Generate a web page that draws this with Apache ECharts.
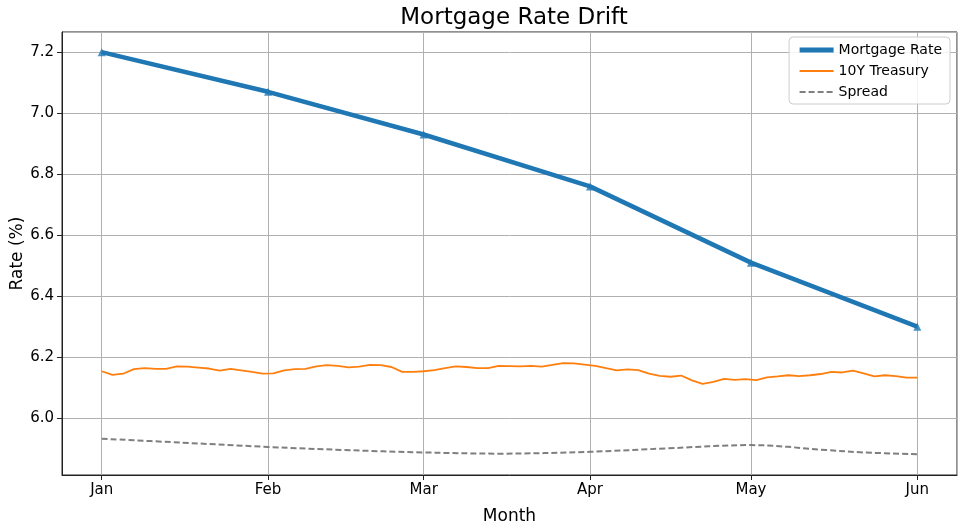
<!DOCTYPE html>
<html>
<head>
<meta charset="utf-8">
<script src="https://cdn.jsdelivr.net/npm/echarts@6/dist/echarts.min.js"></script>
<style>html,body{margin:0;padding:0;background:#fff;}#c{width:966px;height:527px;}</style>
</head>
<body>
<div id="c"></div>
<script>
const monthNames = ['Jan','Feb','Mar','Apr','May','Jun','Jul','Aug','Sep','Oct','Nov','Dec'];
// Mortgage rate, first day of each month (2024)
const mortgageDates = ['2024-01-01','2024-02-01','2024-03-01','2024-04-01','2024-05-01','2024-06-01'];
const mortgageValues = [7.20, 7.07, 6.93, 6.76, 6.51, 6.30];
// 10Y Treasury, every 2 days starting 2024-01-01
const treasuryStart = '2024-01-01';
const treasuryStepDays = 2;
const treasuryValues = [
  6.154,6.142,6.146,6.161,6.164,6.162,6.162,6.170,6.169,6.166,
  6.163,6.156,6.162,6.157,6.152,6.146,6.147,6.157,6.161,6.162,
  6.170,6.174,6.172,6.167,6.169,6.175,6.174,6.168,6.152,6.152,
  6.154,6.158,6.164,6.170,6.168,6.164,6.164,6.172,6.171,6.170,
  6.172,6.169,6.175,6.181,6.180,6.176,6.172,6.164,6.157,6.160,
  6.158,6.146,6.139,6.136,6.140,6.124,6.113,6.119,6.129,6.126,
  6.128,6.125,6.134,6.137,6.141,6.138,6.141,6.145,6.152,6.150,
  6.156,6.147,6.137,6.141,6.138,6.133,6.133
];
// Spread (smooth dashed series)
const spreadDates = ['2024-01-01','2024-01-16','2024-02-01','2024-02-15','2024-03-01','2024-03-15','2024-04-01','2024-04-15','2024-05-01','2024-05-15','2024-05-22','2024-06-01'];
const spreadValues = [5.933, 5.920, 5.906, 5.896, 5.888, 5.884, 5.890, 5.901, 5.912, 5.896, 5.888, 5.882];

function parseDay(s){ const p = s.split('-').map(Number); return new Date(p[0], p[1]-1, p[2]).getTime(); }
const DAY = 864e5;
const t0 = parseDay(treasuryStart);
const treasuryData = treasuryValues.map((v,i)=>{ const d = new Date(t0); d.setDate(d.getDate()+i*treasuryStepDays); return [d.getTime(), v]; });
const mortgageData = mortgageDates.map((d,i)=>[parseDay(d), mortgageValues[i]]);
const spreadData = spreadDates.map((d,i)=>[parseDay(d), spreadValues[i]]);

const xMin = parseDay(mortgageDates[0]) - 7.4*DAY;
const xMax = parseDay(mortgageDates[mortgageDates.length-1]) + 7.4*DAY;
const font = 'DejaVu Sans';

const chart = echarts.init(document.getElementById('c'), null, {renderer:'canvas'});
chart.setOption({
  backgroundColor:'#fff',
  animation:false,
  title:{
    text:'Mortgage Rate Drift', left:509, top:2, textAlign:'center',
    textStyle:{fontFamily:font, fontSize:23, fontWeight:'normal', color:'#000'}
  },
  grid:{left:62, right:9, top:32, bottom:52, outerBoundsMode:'none', containLabel:false,
        show:true, borderColor:'#222', borderWidth:1, backgroundColor:'transparent'},
  legend:{
    data:[
      {name:'Mortgage Rate', itemStyle:{opacity:0}, lineStyle:{width:5}},
      {name:'10Y Treasury', itemStyle:{opacity:0}},
      {name:'Spread', itemStyle:{opacity:0}}
    ],
    orient:'vertical', right:16, top:37,
    itemWidth:34, itemHeight:12, itemGap:7,
    padding:[6,8,5,8],
    backgroundColor:'rgba(255,255,255,0.85)', borderColor:'#ccc', borderWidth:1, borderRadius:4,
    textStyle:{fontFamily:font, fontSize:14, color:'#000'}
  },
  xAxis:{
    type:'time', min:xMin, max:xMax,
    minInterval:28*DAY, maxInterval:31*DAY,
    name:'Month', nameLocation:'middle', nameGap:33,
    nameTextStyle:{fontFamily:font, fontSize:17, color:'#000'},
    axisLine:{show:true, lineStyle:{color:'#222', width:1}},
    axisTick:{show:true, length:5, lineStyle:{color:'#222'}},
    axisLabel:{fontFamily:font, fontSize:15, color:'#000', margin:8, showMinLabel:false, showMaxLabel:false,
      formatter:function(v){ return monthNames[new Date(v).getMonth()]; }},
    splitLine:{show:true, lineStyle:{color:'#b0b0b0', width:1}},
    minorTick:{show:false}
  },
  yAxis:{
    type:'value', min:5.814, max:7.266, splitNumber:7, minInterval:0.2, maxInterval:0.2,
    name:'Rate (%)', nameLocation:'middle', nameGap:36, nameMoveOverlap:false,
    nameTextStyle:{fontFamily:font, fontSize:17, color:'#000'},
    axisLine:{show:true, lineStyle:{color:'#222', width:1}},
    axisTick:{show:true, length:5, lineStyle:{color:'#222'}},
    axisLabel:{fontFamily:font, fontSize:15, color:'#000', margin:8, showMinLabel:false, showMaxLabel:false,
      formatter:function(v){ return v.toFixed(1); }},
    splitLine:{show:true, lineStyle:{color:'#b0b0b0', width:1}}
  },
  series:[
    {name:'Mortgage Rate', type:'line', data:mortgageData, symbol:'none',
     lineStyle:{color:'#1f77b4', width:4.5}, itemStyle:{color:'#1f77b4'}, z:5},
    {name:'10Y Treasury', type:'line', data:treasuryData, symbol:'none',
     lineStyle:{color:'#ff7f0e', width:1.8}, itemStyle:{color:'#ff7f0e'}, z:4},
    {name:'Spread', type:'line', data:spreadData, symbol:'none', smooth:0.35,
     lineStyle:{color:'#7f7f7f', width:2, type:[6,3]}, itemStyle:{color:'#7f7f7f'}, z:3},
    {name:'Mortgage Markers', type:'scatter', data:mortgageData, symbol:'triangle', symbolSize:8,
     itemStyle:{color:'#1f77b4'}, z:6}
  ]
});
</script>
</body>
</html>
